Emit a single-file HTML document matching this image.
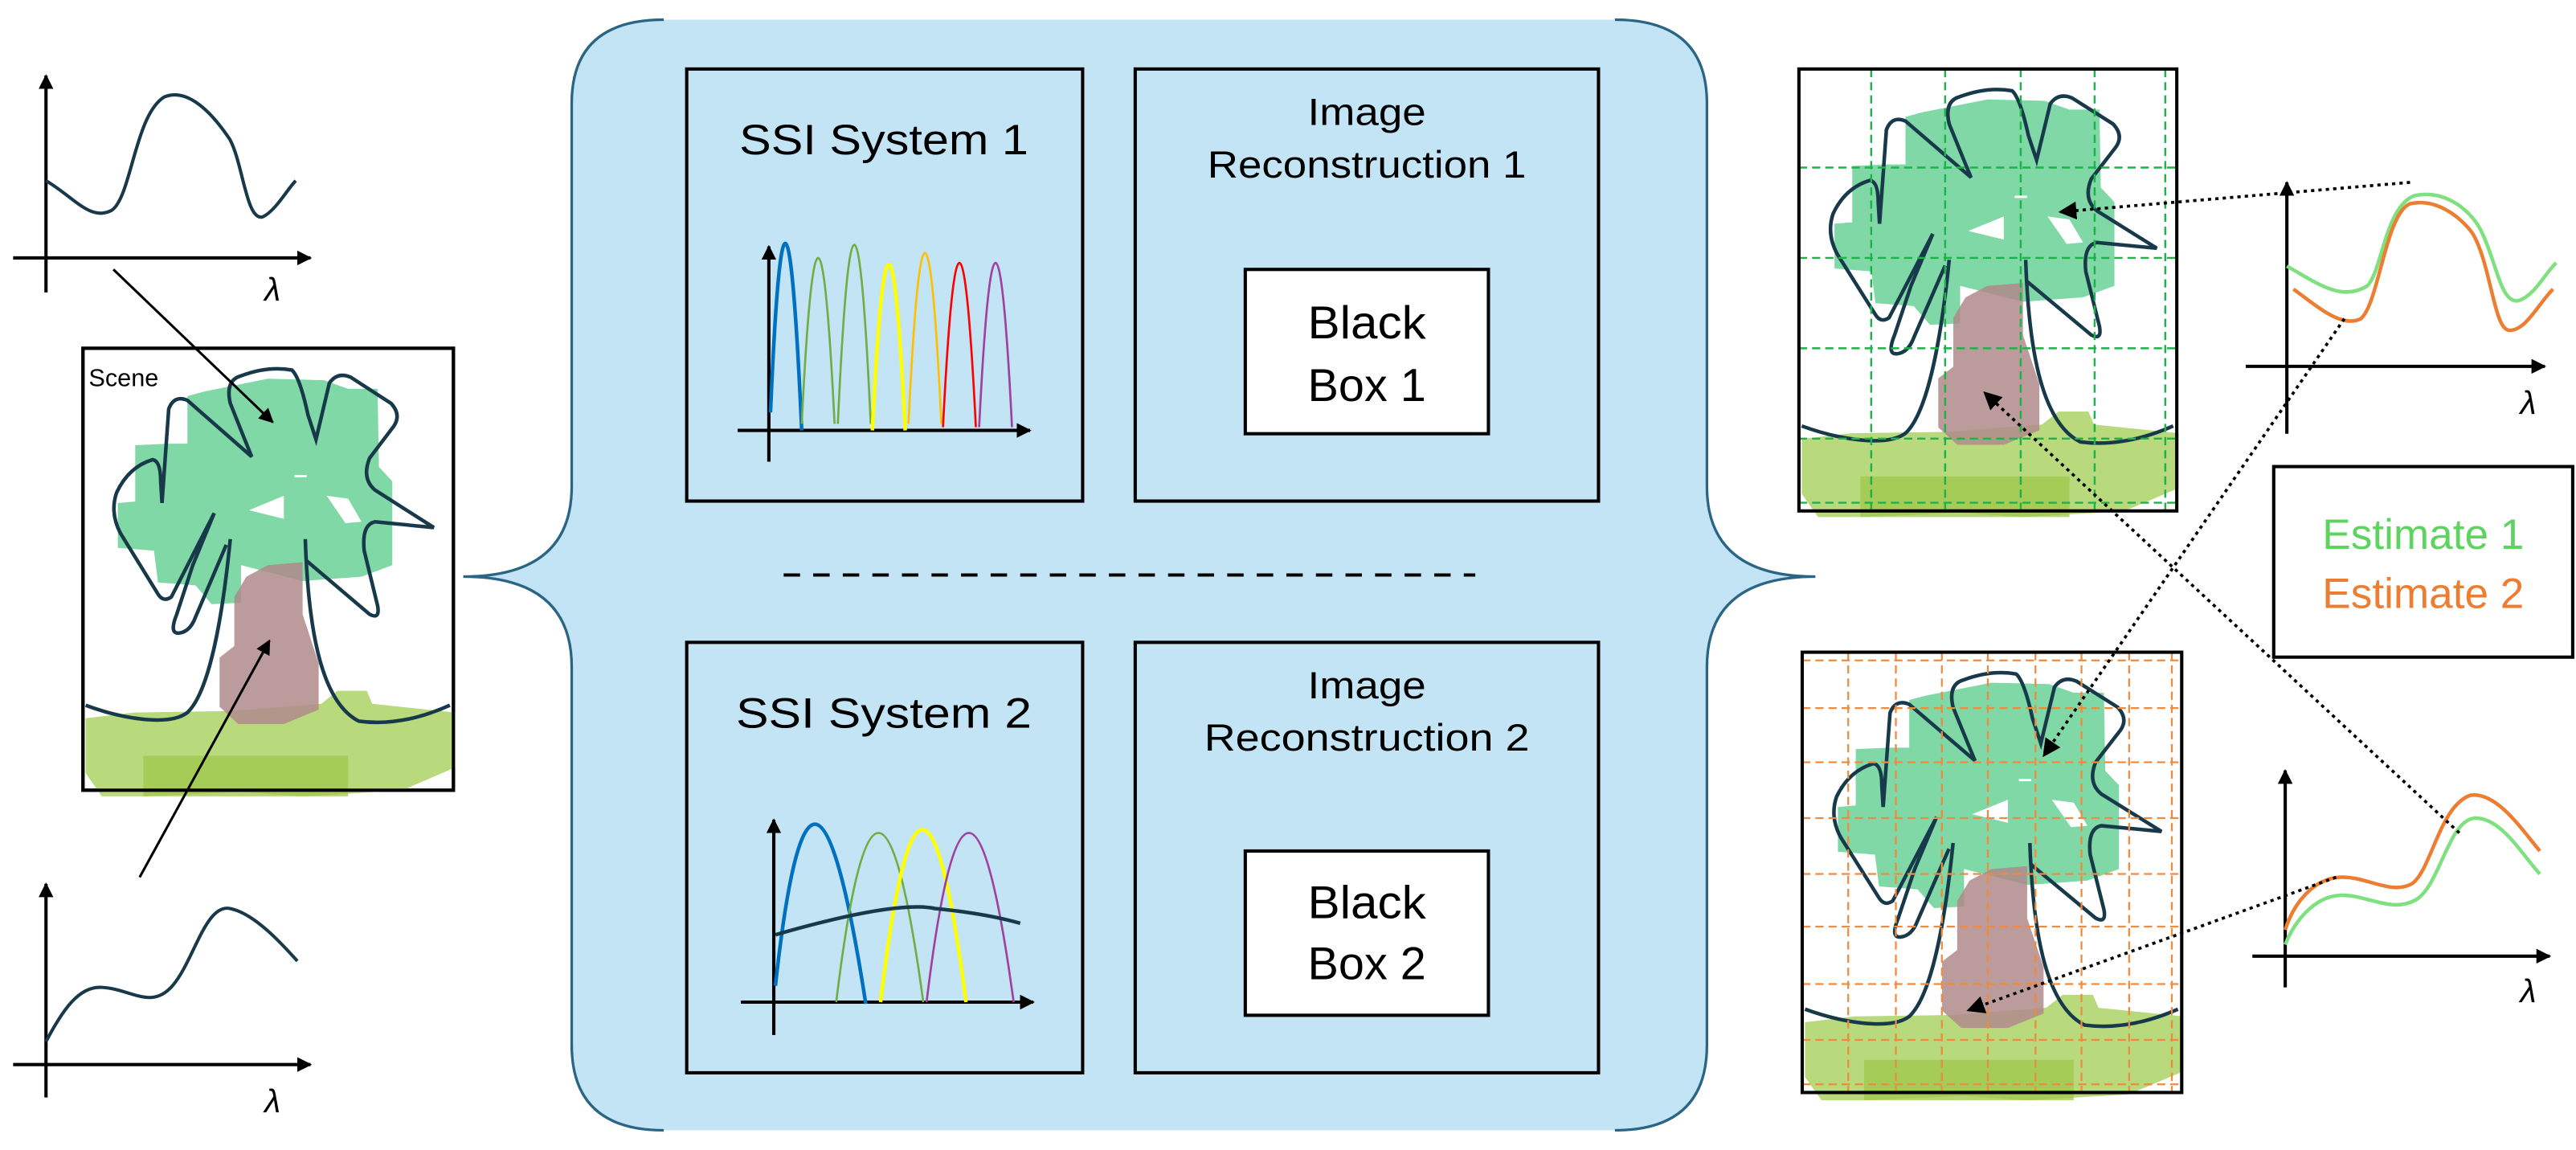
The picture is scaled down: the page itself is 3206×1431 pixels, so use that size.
<!DOCTYPE html>
<html><head><meta charset="utf-8"><style>
html,body{margin:0;padding:0;background:#fff;}
svg{display:block;}
text{font-family:"Liberation Sans",sans-serif;}
</style></head><body>
<svg width="3206" height="1431" viewBox="0 0 1568 700" preserveAspectRatio="none" xmlns="http://www.w3.org/2000/svg">
<defs>
<marker id="ah" viewBox="0 0 10 10" refX="9" refY="5" markerWidth="9" markerHeight="9" markerUnits="userSpaceOnUse" orient="auto"><path d="M0,0 L10,5 L0,10 z" fill="#000"/></marker>
<marker id="ah2" viewBox="0 0 10 10" refX="9" refY="5" markerWidth="11" markerHeight="11" markerUnits="userSpaceOnUse" orient="auto"><path d="M0,0 L10,5 L0,10 z" fill="#000"/></marker>
<g id="tree">
 <g transform="matrix(0.163,0,0,0.1759,48.9,210.3)">
  <path d="M400,175 L460,160 L700,115 L910,120 L1000,150 L1110,150 L1115,420 L1165,470 L1165,760 L1050,800 L830,815 L600,760 L600,890 L490,895 L430,830 L290,820 L275,710 L140,700 L140,545 L205,540 L205,345 L330,340 L400,340 Z" fill="#7fd8a6"/>
  <path d="M630,570 L760,520 L760,600 Z M920,520 L1000,530 L1050,610 L990,615 Z M800,448 L845,448 L845,456 L800,456 Z" fill="#fff"/>
  <path d="M20,1290 L200,1270 L560,1265 L900,1240 L960,1195 L1070,1195 L1090,1240 L1400,1270 L1400,1460 L1200,1540 L830,1560 L600,1545 L240,1560 L80,1560 L20,1480 Z" fill="#b8d97c"/>
  <path d="M235,1420 L1000,1420 L1000,1560 L235,1560 Z" fill="#9dc74a" opacity="0.75"/>
  <path d="M700,760 L830,750 L830,930 L890,1100 L890,1260 L760,1310 L590,1310 L520,1250 L520,1080 L575,1040 L575,870 L620,800 Z" fill="#b08a8c" opacity="0.85"/>
  <g fill="none" stroke="#17394a" stroke-width="4.5">
   <path d="M20,1245 C150,1290 330,1320 400,1270 C480,1200 530,950 560,670" vector-effect="non-scaling-stroke"/>
   <path d="M500,580 L420,760 L360,930 Q330,1000 370,995 Q410,990 430,940 L545,690 M500,580 L340,870 Q310,890 290,860 L150,650 Q110,580 135,510 Q180,420 270,395 Q300,400 300,470 L305,545 L330,220 Q350,170 400,190 L640,385 Q620,340 560,200 Q540,120 600,105 Q700,70 790,85 Q820,110 850,240 L880,325 L930,130 Q960,90 1010,110 L1160,200 Q1200,240 1170,280 L1080,390 Q1050,460 1100,500 L1320,630 L1100,610 Q1050,620 1060,710 L1110,900 Q1120,950 1080,930 L845,745" vector-effect="non-scaling-stroke"/>
   <path d="M840,670 C850,950 890,1230 1040,1300 Q1200,1320 1380,1245" vector-effect="non-scaling-stroke"/>
  </g>
 </g>
</g>
</defs>

<path d="M404,12 L983,12 Q1039,12 1039,63 L1039,296 Q1039,351 1105,351 Q1039,351 1039,406 L1039,636 Q1039,688 983,688 L404,688 Q348,688 348,636 L348,406 Q348,351 282,351 Q348,351 348,296 L348,63 Q348,12 404,12 Z" fill="#c3e4f4"/>
<path d="M404,12 Q348,12 348,63 L348,296 Q348,351 282,351 Q348,351 348,406 L348,636 Q348,688 404,688" fill="none" stroke="#2b6585" stroke-width="1.6"/>
<path d="M983,12 Q1039,12 1039,63 L1039,296 Q1039,351 1105,351 Q1039,351 1039,406 L1039,636 Q1039,688 983,688" fill="none" stroke="#2b6585" stroke-width="1.6"/>

<rect x="418" y="42" width="241" height="263" fill="none" stroke="#000" stroke-width="2"/>
<rect x="691" y="42" width="282" height="263" fill="none" stroke="#000" stroke-width="2"/>
<rect x="758" y="164" width="148" height="100" fill="#fff" stroke="#000" stroke-width="2"/>
<rect x="418" y="391" width="241" height="262" fill="none" stroke="#000" stroke-width="2"/>
<rect x="691" y="391" width="282" height="262" fill="none" stroke="#000" stroke-width="2"/>
<rect x="758" y="518" width="148" height="100" fill="#fff" stroke="#000" stroke-width="2"/>
<line x1="477" y1="350" x2="898" y2="350" stroke="#000" stroke-width="2" stroke-dasharray="10,8"/>

<text x="538" y="94" font-size="26" text-anchor="middle" textLength="176" lengthAdjust="spacingAndGlyphs">SSI System 1</text>
<text x="832" y="76" font-size="23" text-anchor="middle" textLength="72" lengthAdjust="spacingAndGlyphs">Image</text>
<text x="832" y="108" font-size="23" text-anchor="middle" textLength="194" lengthAdjust="spacingAndGlyphs">Reconstruction 1</text>
<text x="832" y="206" font-size="28" text-anchor="middle" textLength="72" lengthAdjust="spacingAndGlyphs">Black</text>
<text x="832" y="244" font-size="28" text-anchor="middle" textLength="72" lengthAdjust="spacingAndGlyphs">Box 1</text>
<text x="538" y="443" font-size="26" text-anchor="middle" textLength="180" lengthAdjust="spacingAndGlyphs">SSI System 2</text>
<text x="832" y="425" font-size="23" text-anchor="middle" textLength="72" lengthAdjust="spacingAndGlyphs">Image</text>
<text x="832" y="457" font-size="23" text-anchor="middle" textLength="198" lengthAdjust="spacingAndGlyphs">Reconstruction 2</text>
<text x="832" y="559" font-size="28" text-anchor="middle" textLength="72" lengthAdjust="spacingAndGlyphs">Black</text>
<text x="832" y="596" font-size="28" text-anchor="middle" textLength="72" lengthAdjust="spacingAndGlyphs">Box 2</text>

<line x1="468" y1="281" x2="468" y2="150" stroke="#000" stroke-width="2" marker-end="url(#ah)"/>
<line x1="449" y1="262" x2="627" y2="262" stroke="#000" stroke-width="2" marker-end="url(#ah)"/>
<path d="M469,251 Q478,40 488,262" fill="none" stroke="#0070c0" stroke-width="2.2"/>
<path d="M488,258 Q498,56 508,258" fill="none" stroke="#70ad47" stroke-width="1.3"/>
<path d="M510,258 Q520,40 530,258" fill="none" stroke="#70ad47" stroke-width="1.3"/>
<path d="M531,262 Q541,60 551,262" fill="none" stroke="#ffff00" stroke-width="2.2"/>
<path d="M553,258 Q563,50 573,258" fill="none" stroke="#ffc000" stroke-width="1.3"/>
<path d="M574,260 Q584,60 594,260" fill="none" stroke="#ff0000" stroke-width="1.3"/>
<path d="M596,260 Q606,60 616,260" fill="none" stroke="#a040a0" stroke-width="1.3"/>

<line x1="471" y1="630" x2="471" y2="499" stroke="#000" stroke-width="2" marker-end="url(#ah)"/>
<line x1="451" y1="610" x2="629" y2="610" stroke="#000" stroke-width="2" marker-end="url(#ah)"/>
<path d="M472,600 Q494,398 527,611" fill="none" stroke="#0070c0" stroke-width="2.2"/>
<path d="M509,610 Q534,404 562,610" fill="none" stroke="#70ad47" stroke-width="1.3"/>
<path d="M536,610 Q561,400 588,610" fill="none" stroke="#ffff00" stroke-width="2.2"/>
<path d="M564,610 Q589,404 617,610" fill="none" stroke="#a040a0" stroke-width="1.3"/>
<path d="M472,569 Q545,548 569,553 Q600,556 621,562" fill="none" stroke="#17394a" stroke-width="2.2"/>

<line x1="28" y1="178" x2="28" y2="46" stroke="#000" stroke-width="2" marker-end="url(#ah)"/>
<line x1="8" y1="157" x2="189" y2="157" stroke="#000" stroke-width="2" marker-end="url(#ah)"/>
<path d="M28,110 C45,120 55,135 68,128 C80,120 82,70 100,59 C115,53 130,70 140,85 C148,100 150,135 160,132 C168,128 175,115 180,110" fill="none" stroke="#17394a" stroke-width="2"/>
<text x="161" y="183" font-size="20" font-style="italic" font-family="Liberation Serif,serif">λ</text>
<line x1="28" y1="668" x2="28" y2="538" stroke="#000" stroke-width="2" marker-end="url(#ah)"/>
<line x1="8" y1="648" x2="189" y2="648" stroke="#000" stroke-width="2" marker-end="url(#ah)"/>
<path d="M28,634 C38,615 48,600 62,601 C80,602 92,615 105,600 C118,585 125,550 140,553 C155,556 172,575 181,585" fill="none" stroke="#17394a" stroke-width="2"/>
<text x="161" y="677" font-size="20" font-style="italic" font-family="Liberation Serif,serif">λ</text>

<rect x="50.5" y="212" width="225.5" height="269" fill="#fff" stroke="#000" stroke-width="2"/>
<use href="#tree"/>
<rect x="50.5" y="212" width="225.5" height="269" fill="none" stroke="#000" stroke-width="2"/>
<text x="54" y="235" font-size="15">Scene</text>
<line x1="69" y1="164" x2="166" y2="257" stroke="#000" stroke-width="1.5" marker-end="url(#ah)"/>
<line x1="85" y1="534" x2="164" y2="390" stroke="#000" stroke-width="1.5" marker-end="url(#ah)"/>

<rect x="1095" y="42" width="230" height="269" fill="#fff"/>
<g transform="translate(1095,42) scale(1.02,1.0) translate(-50.5,-212)"><use href="#tree"/></g>
<g stroke="#1db34a" stroke-width="1.2" stroke-dasharray="5,3" fill="none">
<line x1="1139" y1="42" x2="1139" y2="311"/><line x1="1184" y1="42" x2="1184" y2="311"/><line x1="1230" y1="42" x2="1230" y2="311"/><line x1="1275" y1="42" x2="1275" y2="311"/><line x1="1318" y1="42" x2="1318" y2="311"/>
<line x1="1095" y1="102" x2="1325" y2="102"/><line x1="1095" y1="157" x2="1325" y2="157"/><line x1="1095" y1="212" x2="1325" y2="212"/><line x1="1095" y1="267" x2="1325" y2="267"/><line x1="1095" y1="306" x2="1325" y2="306"/>
</g>
<rect x="1095" y="42" width="230" height="269" fill="none" stroke="#000" stroke-width="2"/>

<rect x="1097" y="397" width="231" height="268" fill="#fff"/>
<g transform="translate(1097,397) scale(1.024,1.0) translate(-50.5,-212)"><use href="#tree"/></g>
<g stroke="#f08a3c" stroke-width="1.1" stroke-dasharray="5,3" fill="none">
<line x1="1125" y1="397" x2="1125" y2="665"/><line x1="1154" y1="397" x2="1154" y2="665"/><line x1="1182" y1="397" x2="1182" y2="665"/><line x1="1210" y1="397" x2="1210" y2="665"/><line x1="1239" y1="397" x2="1239" y2="665"/><line x1="1267" y1="397" x2="1267" y2="665"/><line x1="1296" y1="397" x2="1296" y2="665"/><line x1="1322" y1="397" x2="1322" y2="665"/>
<line x1="1097" y1="431" x2="1328" y2="431"/><line x1="1097" y1="464" x2="1328" y2="464"/><line x1="1097" y1="498" x2="1328" y2="498"/><line x1="1097" y1="532" x2="1328" y2="532"/><line x1="1097" y1="564" x2="1328" y2="564"/><line x1="1097" y1="599" x2="1328" y2="599"/><line x1="1097" y1="633" x2="1328" y2="633"/><line x1="1097" y1="402" x2="1328" y2="402"/><line x1="1097" y1="660" x2="1328" y2="660"/>
</g>
<rect x="1097" y="397" width="231" height="268" fill="none" stroke="#000" stroke-width="2"/>

<line x1="1392" y1="264" x2="1392" y2="111" stroke="#000" stroke-width="2" marker-end="url(#ah)"/>
<line x1="1367" y1="223" x2="1549" y2="223" stroke="#000" stroke-width="2" marker-end="url(#ah)"/>
<path d="M1392,162 C1410,172 1425,184 1441,174 C1450,165 1452,125 1470,119 C1490,115 1505,130 1510,140 C1520,160 1522,185 1533,183 C1543,180 1550,165 1556,160" fill="none" stroke="#7fe07f" stroke-width="2.2"/>
<path d="M1396,176 C1410,186 1425,200 1437,194 C1448,185 1452,130 1467,124 C1485,120 1500,135 1505,142 C1516,160 1518,200 1527,201 C1537,202 1545,185 1554,176" fill="none" stroke="#ed7d31" stroke-width="2.2"/>
<text x="1534" y="252" font-size="20" font-style="italic" font-family="Liberation Serif,serif">λ</text>

<line x1="1391" y1="601" x2="1391" y2="469" stroke="#000" stroke-width="2" marker-end="url(#ah)"/>
<line x1="1371" y1="582" x2="1552" y2="582" stroke="#000" stroke-width="2" marker-end="url(#ah)"/>
<path d="M1391,566 C1396,550 1408,535 1424,534 C1440,533 1455,545 1468,538 C1480,530 1485,490 1504,484 C1520,482 1535,505 1546,518" fill="none" stroke="#ed7d31" stroke-width="2.2"/>
<path d="M1391,575 C1396,562 1408,546 1424,545 C1440,544 1455,556 1470,548 C1485,540 1490,500 1506,498 C1522,497 1535,520 1546,532" fill="none" stroke="#7fe07f" stroke-width="2.2"/>
<text x="1534" y="610" font-size="20" font-style="italic" font-family="Liberation Serif,serif">λ</text>

<rect x="1384" y="284" width="182" height="116" fill="#fff" stroke="#000" stroke-width="2"/>
<text x="1475" y="334" font-size="26" fill="#5fd35f" text-anchor="middle">Estimate 1</text>
<text x="1475" y="370" font-size="26" fill="#ed7d31" text-anchor="middle">Estimate 2</text>

<g stroke="#000" stroke-width="1.8" stroke-dasharray="2,2.5" fill="none">
<line x1="1467" y1="111" x2="1254" y2="129" marker-end="url(#ah2)"/>
<line x1="1427" y1="194" x2="1244" y2="460" marker-end="url(#ah2)"/>
<line x1="1497" y1="507" x2="1208" y2="239" marker-end="url(#ah2)"/>
<line x1="1422" y1="534" x2="1198" y2="615" marker-end="url(#ah2)"/>
</g>
</svg>
</body></html>
